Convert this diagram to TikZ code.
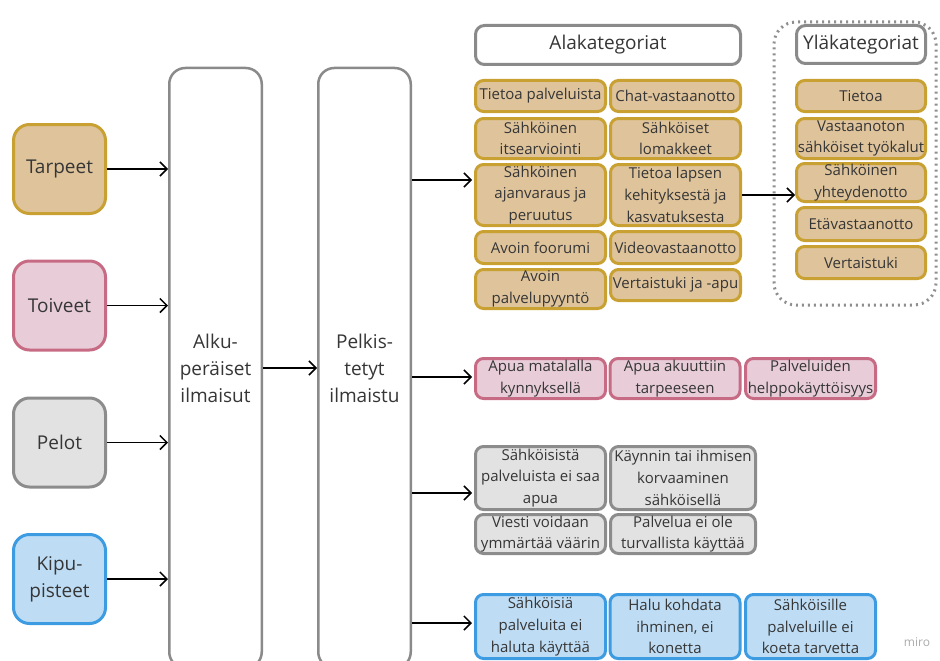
\documentclass[tikz,border=0pt]{standalone}
\usepackage{fontspec}
\setmainfont{Open Sans}
\usepackage{xcolor}
\usepackage{tikz}
\usetikzlibrary{arrows.meta}
\definecolor{textgray}{HTML}{363636}
\definecolor{framegray}{HTML}{8A8A8A}
\definecolor{dotgray}{HTML}{8F8F8F}
\definecolor{mirogray}{HTML}{ABABAB}
\definecolor{tanfill}{HTML}{DEC39B}
\definecolor{tanline}{HTML}{C9A032}
\definecolor{pinkfill}{HTML}{E8CDD8}
\definecolor{pinkline}{HTML}{C76B84}
\definecolor{grayfill}{HTML}{E2E2E2}
\definecolor{grayline}{HTML}{8C8C8C}
\definecolor{bluefill}{HTML}{BEDDF5}
\definecolor{blueline}{HTML}{3D9BE2}
\tikzset{
  every node/.append style={text=textgray},
  bigfont/.style={font=\fontsize{19}{27}\selectfont},
  smallfont/.style={font=\fontsize{15}{21.7}\selectfont},
  boxdim/.style 2 args={minimum width=#1,minimum height=#2},
  srcbox/.style={bigfont,rounded corners=16pt,line width=3pt,boxdim={92pt}{89pt},align=center},
  tallbox/.style={bigfont,draw=framegray,fill=white,rounded corners=16pt,line width=2.5pt,boxdim={92.5pt}{600pt},align=center},
  headbox/.style={bigfont,draw=framegray,fill=white,rounded corners=9pt,line width=3pt,inner sep=0pt},
  catbox/.style={smallfont,rounded corners=8pt,line width=3pt,inner sep=0pt,align=center},
  tanbox/.style={catbox,draw=tanline,fill=tanfill},
  pinkbox/.style={catbox,draw=pinkline,fill=pinkfill,boxdim={130pt}{40pt}},
  graybox/.style={catbox,draw=grayline,fill=grayfill},
  bluebox/.style={catbox,draw=blueline,fill=bluefill,boxdim={130pt}{64pt}},
  arr/.style={->,line width=1.5pt},
  dotframe/.style={draw=dotgray,line width=3pt,dash pattern=on 2pt off 4pt,rounded corners=22pt}
}

\begin{document}
\begin{tikzpicture}[x=1pt,y=-1pt,>={Straight Barb[length=7pt,width=14pt]}]
  \useasboundingbox (0,0) rectangle (940,661);
  \node[dotframe,boxdim={162pt}{283pt}] (ylaframe) at (855,163.5) {};

  \node[srcbox,draw=tanline,fill=tanfill] (tarpeet) at (59.5,169) {Tarpeet};
  \node[srcbox,draw=pinkline,fill=pinkfill] (toiveet) at (59.5,305.5) {Toiveet};
  \node[srcbox,draw=grayline,fill=grayfill] (pelot) at (59.5,442.5) {Pelot};
  \node[srcbox,draw=blueline,fill=bluefill] (kipu) at (59.5,579) {Kipu-\\pisteet};

  \node[tallbox] (alku) at (215.5,368) {Alku-\\peräiset\\ilmaisut};
  \node[tallbox] (pelk) at (364.5,368) {Pelkis-\\tetyt\\ilmaistu};

  \node[headbox,boxdim={265pt}{39pt}] (alahead) at (608,45) {Alakategoriat};
  \node[tanbox,boxdim={130pt}{31pt}] (palv) at (540.5,96) {Tietoa palveluista};
  \node[tanbox,boxdim={130pt}{31pt}] (chat) at (675.5,96) {Chat-vastaanotto};
  \node[tanbox,boxdim={130pt}{40pt}] (itse) at (540.5,138.5) {Sähköinen\\itsearviointi};
  \node[tanbox,boxdim={130pt}{40pt}] (lomak) at (675.5,138.5) {Sähköiset\\lomakkeet};
  \node[tanbox,boxdim={130pt}{61pt}] (ajan) at (540.5,195) {Sähköinen\\ajanvaraus ja\\peruutus};
  \node[tanbox,boxdim={130pt}{61pt}] (lapsen) at (675.5,195) {Tietoa lapsen\\kehityksestä ja\\kasvatuksesta};
  \node[tanbox,boxdim={130pt}{32pt}] (foorumi) at (540.5,247.5) {Avoin foorumi};
  \node[tanbox,boxdim={130pt}{32pt}] (video) at (675.5,247.5) {Videovastaanotto};
  \node[tanbox,boxdim={130pt}{39pt}] (pyynto) at (540.5,289) {Avoin\\palvelupyyntö};
  \node[tanbox,boxdim={130pt}{31pt}] (vertapu) at (675.5,285) {Vertaistuki ja -apu};

  \node[headbox,boxdim={129pt}{38pt}] (ylahead) at (861,44.5) {Yläkategoriat};
  \node[tanbox,boxdim={129pt}{31pt}] (tietoa) at (861,96) {Tietoa};
  \node[tanbox,boxdim={129pt}{40pt}] (tyokalut) at (861,138.5) {Vastaanoton\\sähköiset työkalut};
  \node[tanbox,boxdim={129pt}{38pt}] (yhteys) at (861,182.5) {Sähköinen\\yhteydenotto};
  \node[tanbox,boxdim={129pt}{33pt}] (eta) at (861,224) {Etävastaanotto};
  \node[tanbox,boxdim={129pt}{32pt}] (vertais) at (861,262.5) {Vertaistuki};

  \node[pinkbox] (matala) at (540.5,378.5) {Apua matalalla\\kynnyksellä};
  \node[pinkbox] (akuutti) at (675,378.5) {Apua akuuttiin\\tarpeeseen};
  \node[pinkbox] (helppo) at (810.5,378.5) {Palveluiden\\helppokäyttöisyys};

  \node[graybox,boxdim={130pt}{63pt}] (eiapua) at (540.5,478) {Sähköisistä\\palveluista ei saa\\apua};
  \node[graybox,boxdim={145pt}{63pt}] (korvaus) at (683,478) {Käynnin tai ihmisen\\korvaaminen\\sähköisellä};
  \node[graybox,boxdim={130pt}{39pt}] (viesti) at (540.5,534) {Viesti voidaan\\ymmärtää väärin};
  \node[graybox,boxdim={145pt}{39pt}] (turva) at (683,534) {Palvelua ei ole\\turvallista käyttää};

  \node[bluebox] (eihaluta) at (540.5,626.5) {Sähköisiä\\palveluita ei\\haluta käyttää};
  \node[bluebox] (ihminen) at (675,626.5) {Halu kohdata\\ihminen, ei\\konetta};
  \node[bluebox] (tarve) at (810.5,626.5) {Sähköisille\\palveluille ei\\koeta tarvetta};

  \node[text=mirogray,font=\fontsize{12}{14}\selectfont] (miro) at (917,642) {miro};

  \coordinate (tanin) at (472,180);
  \coordinate (pinkin) at (472,377);
  \coordinate (grayin) at (472,493);
  \coordinate (bluein) at (472,623);

  \draw[arr] (tarpeet.east) -- (tarpeet.east -| alku.west);
  \draw[arr] (toiveet.east) -- (toiveet.east -| alku.west);
  \draw[arr] (pelot.east) -- (pelot.east -| alku.west);
  \draw[arr] (kipu.east) -- (kipu.east -| alku.west);
  \draw[arr] (alku) -- (pelk);
  \draw[arr] (pelk.east |- tanin) -- (tanin);
  \draw[arr] (pelk.east |- pinkin) -- (pinkin);
  \draw[arr] (pelk.east |- grayin) -- (grayin);
  \draw[arr] (pelk.east |- bluein) -- (bluein);
  \draw[arr] (lapsen.east) -- (lapsen.east -| yhteys.west);
\end{tikzpicture}
\end{document}
